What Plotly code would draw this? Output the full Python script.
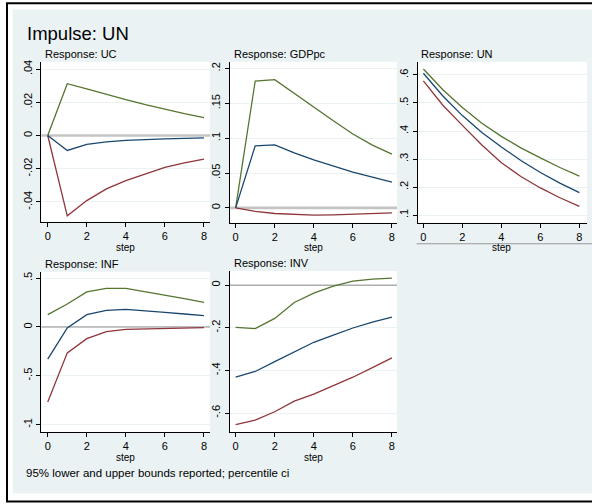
import plotly.graph_objects as go

# ---- impulse-response values (impulse: UN), steps 0..8 ----
STEPS = [0, 1, 2, 3, 4, 5, 6, 7, 8]

UC_LOWER = [0, -0.0484, -0.0392, -0.0322, -0.0272, -0.0230, -0.0192, -0.0165, -0.0142]
UC_IRF = [0, -0.0090, -0.0054, -0.0038, -0.0030, -0.0024, -0.0020, -0.0017, -0.0014]
UC_UPPER = [0, 0.0312, 0.0280, 0.0247, 0.0216, 0.0186, 0.0158, 0.0132, 0.0108]

GDP_LOWER = [0, -0.005, -0.008, -0.0095, -0.0105, -0.0100, -0.009, -0.008, -0.007]
GDP_IRF = [0, 0.089, 0.0905, 0.079, 0.069, 0.060, 0.0514, 0.044, 0.037]
GDP_UPPER = [0, 0.182, 0.184, 0.164, 0.144, 0.125, 0.106, 0.090, 0.077]

UN_LOWER = [0.579, 0.492, 0.420, 0.350, 0.287, 0.238, 0.197, 0.162, 0.131]
UN_IRF = [0.606, 0.525, 0.455, 0.395, 0.343, 0.295, 0.252, 0.214, 0.180]
UN_UPPER = [0.621, 0.547, 0.484, 0.428, 0.381, 0.340, 0.304, 0.270, 0.239]

INF_LOWER = [-0.769, -0.265, -0.119, -0.048, -0.024, -0.018, -0.014, -0.010, -0.007]
INF_IRF = [-0.33, -0.01, 0.126, 0.17, 0.18, 0.167, 0.15, 0.133, 0.116]
INF_UPPER = [0.126, 0.235, 0.36, 0.395, 0.395, 0.362, 0.327, 0.29, 0.252]

INV_LOWER = [-0.655, -0.633, -0.594, -0.544, -0.511, -0.472, -0.432, -0.387, -0.341]
INV_IRF = [-0.432, -0.405, -0.359, -0.312, -0.268, -0.234, -0.201, -0.173, -0.150]
INV_UPPER = [-0.198, -0.204, -0.156, -0.081, -0.037, -0.005, 0.019, 0.028, 0.033]

RESPONSES = ["UC", "GDPpc", "UN", "INF", "INV"]
SERIES = {
    "UC": (UC_LOWER, UC_IRF, UC_UPPER),
    "GDPpc": (GDP_LOWER, GDP_IRF, GDP_UPPER),
    "UN": (UN_LOWER, UN_IRF, UN_UPPER),
    "INF": (INF_LOWER, INF_IRF, INF_UPPER),
    "INV": (INV_LOWER, INV_IRF, INV_UPPER),
}
Y_TICKS = {
    "UC": [-0.04, -0.02, 0, 0.02, 0.04],
    "GDPpc": [0, 0.05, 0.1, 0.15, 0.2],
    "UN": [0.1, 0.2, 0.3, 0.4, 0.5, 0.6],
    "INF": [-1, -0.5, 0, 0.5],
    "INV": [-0.6, -0.4, -0.2, 0],
}
Y_TICK_TEXT = {
    "UC": ["-.04", "-.02", "0", ".02", ".04"],
    "GDPpc": ["0", ".05", ".1", ".15", ".2"],
    "UN": [".1", ".2", ".3", ".4", ".5", ".6"],
    "INF": ["-1", "-.5", "0", ".5"],
    "INV": ["-.6", "-.4", "-.2", "0"],
}
X_TICKS = [0, 2, 4, 6, 8]

# ---- page geometry (pixels) ----
W, H = 592, 504
FONT = "Liberation Sans, Arial, sans-serif"
C_LOWER, C_IRF, C_UPPER = "#90353b", "#1a476f", "#55752f"
BG = "#eaf2f3"


def fx(px):
    return px / W


def fy(py):
    return 1 - py / H


# panel boxes: (left, right, top, bottom), axis ranges, zero-line style
PANELS = {
    "UC": dict(box=(41.3, 210, 60, 220.7), xr=(-0.33, 8.31), yr=(-0.052, 0.0444), zero="thick"),
    "GDPpc": dict(box=(230, 397, 60, 221.7), xr=(-0.29, 8.26), yr=(-0.0214, 0.2096), zero="thick"),
    "UN": dict(box=(417.7, 587, 60, 221.7), xr=(-0.29, 8.39), yr=(0.0726, 0.647), zero=None),
    "INF": dict(box=(41.3, 210, 270.7, 431.7), xr=(-0.33, 8.31), yr=(-1.0755, 0.567), zero="thin"),
    "INV": dict(box=(230, 397, 270, 431.7), xr=(-0.29, 8.26), yr=(-0.689, 0.0668), zero="thin"),
}
ZERO_STYLE = {"thick": dict(color="#c4c4c4", width=2.6), "thin": dict(color="#8a8a8a", width=1)}

fig = go.Figure()
shapes = [
    # outer frame and light graph region
    dict(type="rect", xref="paper", yref="paper", x0=fx(7), x1=fx(640), y0=fy(501.5), y1=fy(1.3),
         line=dict(color="black", width=2), fillcolor="white", layer="below"),
    dict(type="rect", xref="paper", yref="paper", x0=fx(12.7), x1=fx(640), y0=fy(493.3), y1=fy(7.5),
         line=dict(width=0), fillcolor=BG, layer="below"),
]
annotations = []
layout_axes = {}

for i, name in enumerate(RESPONSES, start=1):
    p = PANELS[name]
    l, r, t, b = p["box"]
    xa = "x" if i == 1 else f"x{i}"
    ya = "y" if i == 1 else f"y{i}"
    lower, irf, upper = SERIES[name]

    # horizontal reference line at zero, under the response curves
    if p["zero"]:
        fig.add_trace(go.Scatter(x=list(p["xr"]), y=[0, 0], mode="lines", xaxis=xa, yaxis=ya,
                                 line=ZERO_STYLE[p["zero"]], hoverinfo="skip",
                                 showlegend=False, cliponaxis=True))
    for vals, col in ((lower, C_LOWER), (upper, C_UPPER), (irf, C_IRF)):
        fig.add_trace(go.Scatter(x=STEPS, y=vals, mode="lines", xaxis=xa, yaxis=ya,
                                 line=dict(color=col, width=1.3), hoverinfo="skip",
                                 showlegend=False))

    common = dict(showline=True, linecolor="black", linewidth=1.4, ticks="outside",
                  ticklen=4, tickwidth=1, tickcolor="black", zeroline=False,
                  tickfont=dict(family=FONT, size=11, color="black"))
    layout_axes["xaxis" if i == 1 else f"xaxis{i}"] = dict(
        domain=[fx(l), fx(r)], anchor=ya, range=list(p["xr"]), tickvals=X_TICKS,
        showgrid=False, **common)
    layout_axes["yaxis" if i == 1 else f"yaxis{i}"] = dict(
        domain=[fy(b), fy(t)], anchor=xa, range=list(p["yr"]),
        tickvals=Y_TICKS[name], ticktext=Y_TICK_TEXT[name], tickangle=-90,
        showgrid=True, gridcolor=BG, gridwidth=1, **common)

    # white plot region
    shapes.append(dict(type="rect", xref="paper", yref="paper", x0=fx(l), x1=fx(r),
                       y0=fy(b), y1=fy(t), line=dict(width=0), fillcolor="white",
                       layer="below"))

    # panel title and x-axis title
    annotations.append(dict(text=f"Response: {name}", xref="paper", yref="paper",
                            x=fx(l + 1.5), y=fy(t - 8), xanchor="left", yanchor="middle",
                            showarrow=False, font=dict(family=FONT, size=11, color="black")))
    step_y = 246.6 if t < 100 else 457.2
    x0px = l + (0 - p["xr"][0]) / (p["xr"][1] - p["xr"][0]) * (r - l)
    x8px = l + (8 - p["xr"][0]) / (p["xr"][1] - p["xr"][0]) * (r - l)
    annotations.append(dict(text="step", xref="paper", yref="paper",
                            x=fx((x0px + x8px) / 2), y=fy(step_y), xanchor="center",
                            yanchor="middle", showarrow=False,
                            font=dict(family=FONT, size=10, color="black")))

# rule under the UN panel's x axis
shapes.append(dict(type="line", xref="paper", yref="paper", x0=fx(416.7), x1=fx(600),
                   y0=fy(242.7), y1=fy(242.7), line=dict(color="#9a9a9a", width=1.2),
                   layer="above"))

annotations.append(dict(text="Impulse: UN", xref="paper", yref="paper", x=fx(25),
                        y=fy(32), xanchor="left", yanchor="middle", showarrow=False,
                        font=dict(family=FONT, size=18.5, color="black")))
annotations.append(dict(text="95% lower and upper bounds reported; percentile ci",
                        xref="paper", yref="paper", x=fx(24), y=fy(473), xanchor="left",
                        yanchor="middle", showarrow=False,
                        font=dict(family=FONT, size=11.5, color="black")))

fig.update_layout(width=W, height=H, margin=dict(l=0, r=0, t=0, b=0),
                  paper_bgcolor="white", plot_bgcolor="white", showlegend=False,
                  hovermode=False, shapes=shapes, annotations=annotations,
                  **layout_axes)

fig.write_html("out.html", config=dict(displayModeBar=False))
